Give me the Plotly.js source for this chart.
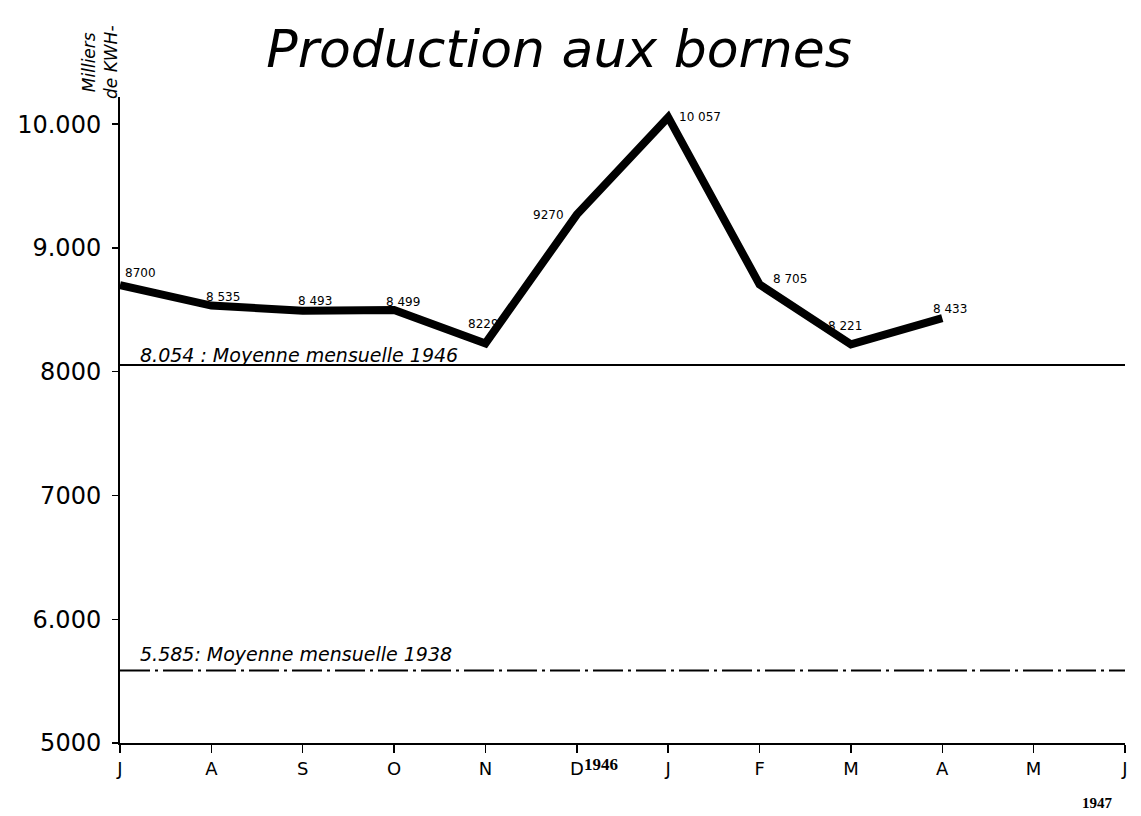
<!DOCTYPE html>
<html>
<head>
<meta charset="utf-8">
<script src="https://cdn.plot.ly/plotly-3.0.1.min.js"></script>
<style>html,body{margin:0;padding:0;background:#fff;}#chart{width:1141px;height:816px;}</style>
</head>
<body>
<div id="chart"></div>
<script>
// Data
var months = ["J", "A", "S", "O", "N", "D", "J", "F", "M", "A", "M", "J"];
var monthIndex = [0, 1, 2, 3, 4, 5, 6, 7, 8, 9, 10, 11];
var production = [8700, 8535, 8493, 8499, 8229, 9270, 10057, 8705, 8221, 8433];
var productionLabels = ["8700", "8 535", "8 493", "8 499", "8229", "9270", "10 057", "8 705", "8 221", "8 433"];
var mean1946 = 8054;
var mean1938 = 5585;
var yTickVals = [5000, 6000, 7000, 8000, 9000, 10000];
var yTickText = ["5000", "6.000", "7000", "8000", "9.000", "10.000"];

// label offsets (pixels) for value annotations
var labelOffsets = [[20, -12], [12, -9], [12, -10], [9, -8], [-2, -19], [-28, 0], [32, 0], [30, -5], [-6, -18], [8, -9]];

var xs = monthIndex.slice(0, production.length);
var font = "DejaVu Sans, sans-serif";

var traces = [
  {x: [0, 11], y: [mean1946, mean1946], mode: "lines", line: {color: "#000", width: 2}, hoverinfo: "skip", cliponaxis: false},
  {x: [0, 11], y: [mean1938, mean1938], mode: "lines", line: {color: "#000", width: 2, dash: "30px,5px,3px,5px"}, hoverinfo: "skip", cliponaxis: false},
  {x: xs, y: production, mode: "lines", line: {color: "#000", width: 8}, cliponaxis: false}
];

var annotations = production.map(function (v, i) {
  return {x: xs[i], y: v, xref: "x", yref: "y", text: productionLabels[i], showarrow: false,
    xshift: labelOffsets[i][0], yshift: -labelOffsets[i][1], font: {family: font, size: 12, color: "#000"}};
});
annotations.push(
  {x: 0.2, y: mean1946, xref: "x", yref: "y", xanchor: "left", yanchor: "bottom", yshift: -3,
   text: "<i>8.054 : Moyenne mensuelle 1946</i>", showarrow: false, font: {family: font, size: 19, color: "#000"}},
  {x: 0.2, y: mean1938, xref: "x", yref: "y", xanchor: "left", yanchor: "bottom", yshift: 4,
   text: "<i>5.585: Moyenne mensuelle 1938</i>", showarrow: false, font: {family: font, size: 19, color: "#000"}},
  {x: 5.27, y: 0, xref: "x", yref: "paper", yanchor: "top", yshift: -10, text: "<b>1946</b>", showarrow: false,
   font: {family: "Liberation Serif, serif", size: 17, color: "#000"}},
  {x: 10.7, y: 0, xref: "x", yref: "paper", yanchor: "top", yshift: -50, text: "<b>1947</b>", showarrow: false,
   font: {family: "Liberation Serif, serif", size: 15, color: "#000"}},
  {x: -0.02, y: 1.054, xref: "paper", yref: "paper", xanchor: "center", yanchor: "middle",
   text: "<i>Milliers<br>de KWH-</i>", showarrow: false, textangle: -90,
   font: {family: font, size: 17, color: "#000"}}
);

var layout = {
  width: 1141, height: 816,
  margin: {l: 120, r: 16, t: 97, b: 73},
  paper_bgcolor: "#fff", plot_bgcolor: "#fff",
  showlegend: false,
  title: {text: "<i>Production aux bornes</i>", x: 0.49, xanchor: "center", y: 0.94, yanchor: "middle",
    font: {family: font, size: 52, color: "#000"}},
  xaxis: {range: [0, 11], tickvals: monthIndex, ticktext: months, showgrid: false, zeroline: false,
    showline: true, linecolor: "#000", linewidth: 2, ticks: "outside", ticklen: 8, tickwidth: 1.5, tickcolor: "#000",
    tickfont: {family: font, size: 18, color: "#000"}, fixedrange: true},
  yaxis: {range: [5000, 10220], tickvals: yTickVals, ticktext: yTickText, showgrid: false, zeroline: false,
    showline: true, linecolor: "#000", linewidth: 2, ticks: "outside", ticklen: 6, tickwidth: 1.5, tickcolor: "#000",
    ticklabelstandoff: 6,
    tickfont: {family: font, size: 24, color: "#000"}, fixedrange: true},
  annotations: annotations
};

Plotly.newPlot("chart", traces, layout, {displayModeBar: false, staticPlot: true});
</script>
</body>
</html>
